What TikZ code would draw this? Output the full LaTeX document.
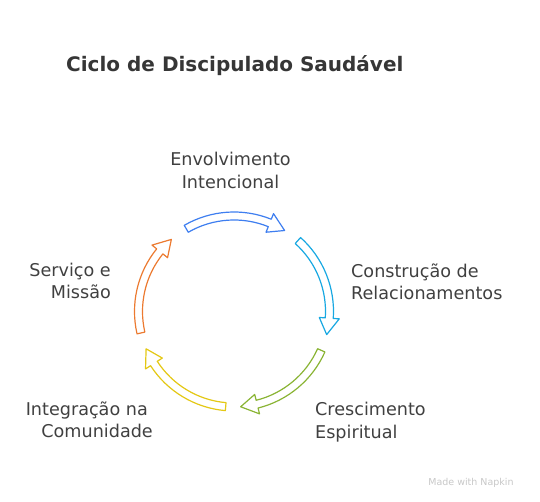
\documentclass[tikz,border=0pt]{standalone}
\usepackage{fontspec}
\setmainfont{DejaVu Sans}
\usetikzlibrary{calc}
\definecolor{azul}{RGB}{62,126,240}
\definecolor{ciano}{RGB}{24,168,226}
\definecolor{verde}{RGB}{138,180,52}
\definecolor{amarelo}{RGB}{228,200,20}
\definecolor{laranja}{RGB}{236,122,48}
\definecolor{texto}{RGB}{64,64,64}
% seta curva: cor, angulo central
\newcommand{\setaciclo}[2]{%
  \draw[#1, line width=1.2pt, line join=round, fill=white]
    ($(c)+(#2+31:91.5pt)$) arc[start angle=#2+31, end angle=#2-21, radius=91.5pt]
    -- ($(c)+(#2-21:85.5pt)$) -- ($(c)+(#2-31:95.5pt)$) -- ($(c)+(#2-21:105.5pt)$)
    -- ($(c)+(#2-21:99.5pt)$) arc[start angle=#2-21, end angle=#2+31, radius=99.5pt]
    -- cycle;}
\tikzset{rotulo/.style={inner sep=0pt, text=texto, font=\fontsize{17.6}{22.5}\selectfont}}
\begin{document}
\begin{tikzpicture}[x=1pt,y=1pt]
  \useasboundingbox (0,0) rectangle (540,502);
  % Titulo
  \node[anchor=base west, inner sep=0pt, text=texto!85!black,
    font=\bfseries\fontsize{20}{24}\selectfont] (titulo) at (66,430) {Ciclo de Discipulado Saudável};

  % Setas
  \coordinate (c) at (234,190.5);
  \setaciclo{azul}{89}
  \setaciclo{ciano}{17}
  \setaciclo{verde}{-55}
  \setaciclo{amarelo}{-126}
  \setaciclo{laranja}{162}

  % Rotulos (base = ultima linha)
  \node[rotulo, anchor=base, align=center] (1) at (230.5,313.5) {Envolvimento\\Intencional};
  \node[rotulo, anchor=base west, align=left] (2) at (351,202) {Construção de\\Relacionamentos};
  \node[rotulo, anchor=base west, align=left] (3) at (315,63.5) {Crescimento\\Espiritual};
  \node[rotulo, anchor=base east, align=right] (4) at (153,64) {Integração na\hspace*{5pt}\\Comunidade};
  \node[rotulo, anchor=base east, align=right] (5) at (111,203) {Serviço e\\Missão};

  \node[anchor=center, inner sep=0pt, text=black!22, font=\fontsize{9.5}{11}\selectfont] (marca) at (471,19) {Made with Napkin};
\end{tikzpicture}
\end{document}
